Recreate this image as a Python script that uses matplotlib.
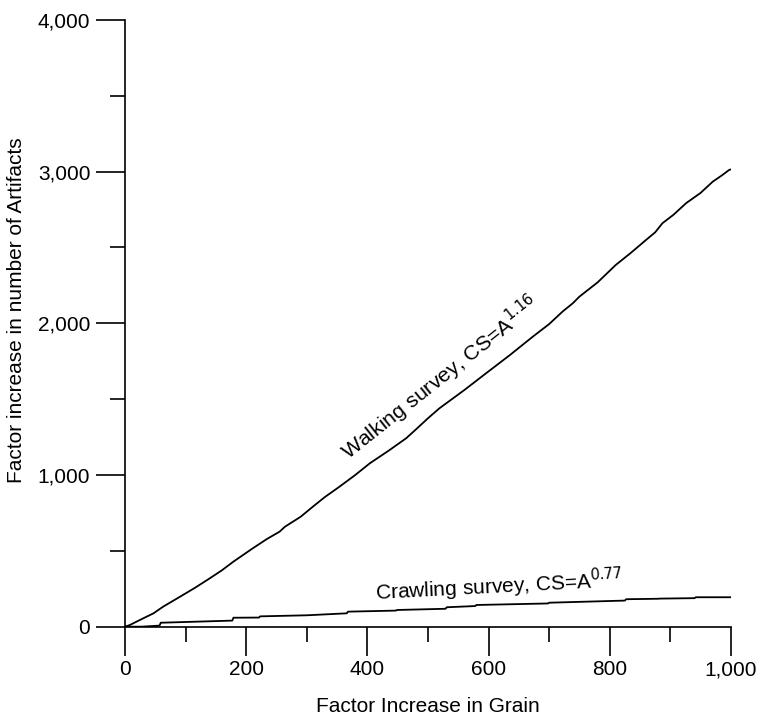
import matplotlib.pyplot as plt
from matplotlib.ticker import MultipleLocator, FuncFormatter

plt.rcParams['font.family'] = ['Liberation Sans', 'DejaVu Sans']

# walking survey curve
walk_x = [0, 8, 25, 47, 63, 91, 115, 140, 160, 179, 211, 235, 255, 264, 290, 310,
          330, 354, 380, 404, 435, 464, 480, 500, 519, 560, 596, 635, 673, 700,
          722, 739, 750, 780, 810, 835, 860, 875, 887, 905, 926, 950, 970, 985, 997, 1000]
walk_y = [0, 11, 45, 88, 132, 198, 255, 319, 372, 429, 517, 580, 626, 659, 725, 791,
          855, 923, 1000, 1077, 1160, 1242, 1300, 1374, 1440, 1560, 1671, 1790, 1912, 1995,
          2077, 2132, 2176, 2270, 2385, 2465, 2550, 2600, 2660, 2715, 2792, 2860, 2934, 2975, 3011, 3015]

# crawling survey curve (step-like)
crawl_x = [0, 27, 57, 59, 177, 179, 221, 223, 300, 366, 368, 447, 449, 529, 531,
           578, 580, 698, 700, 825, 827, 880, 882, 940, 942, 1000]
crawl_y = [0, 0, 7, 26, 40, 59, 60, 68, 75, 88, 99, 106, 110, 118, 128,
           136, 143, 153, 158, 172, 181, 184, 185, 188, 194, 194]

fig = plt.figure(figsize=(7.59, 7.18), dpi=100)
ax = fig.add_axes([0.1647, 0.1272, 0.7983, 0.845])

ax.plot(walk_x, walk_y, color='black', lw=1.3)
ax.plot(crawl_x, crawl_y, color='black', lw=1.3)

ax.set_xlim(0, 1000)
ax.set_ylim(0, 4000)
ax.spines['top'].set_visible(False)
ax.spines['right'].set_visible(False)
ax.spines['left'].set_linewidth(1.2)
ax.spines['bottom'].set_linewidth(1.2)

ax.xaxis.set_major_locator(MultipleLocator(200))
ax.xaxis.set_minor_locator(MultipleLocator(100))
ax.yaxis.set_major_locator(MultipleLocator(1000))
ax.yaxis.set_minor_locator(MultipleLocator(500))
fmt = FuncFormatter(lambda v, p: f'{int(v):,}')
ax.xaxis.set_major_formatter(fmt)
ax.yaxis.set_major_formatter(fmt)
ax.tick_params(which='major', length=21, width=1.2, labelsize=15)
ax.tick_params(axis='y', which='major', pad=4)
ax.tick_params(axis='x', which='major', pad=3)
ax.tick_params(which='minor', length=11, width=1.2)

ax.set_xlabel('Factor Increase in Grain', fontsize=15)
ax.set_ylabel('Factor increase in number of Artifacts', fontsize=15)
ax.xaxis.set_label_coords(0.5, -0.116)
ax.yaxis.set_label_coords(-0.163, 0.522)

# labels anchored at the left end of their baseline
ax.text(370, 1092, 'Walking survey, CS=A$^{1.16}$', rotation=38.5,
        ha='left', va='baseline', fontsize=15.3, rotation_mode='anchor')
ax.text(414, 176, 'Crawling survey, CS=A$^{0.77}$', rotation=3,
        ha='left', va='baseline', fontsize=15, rotation_mode='anchor')

fig.savefig('out.png', dpi=100)
